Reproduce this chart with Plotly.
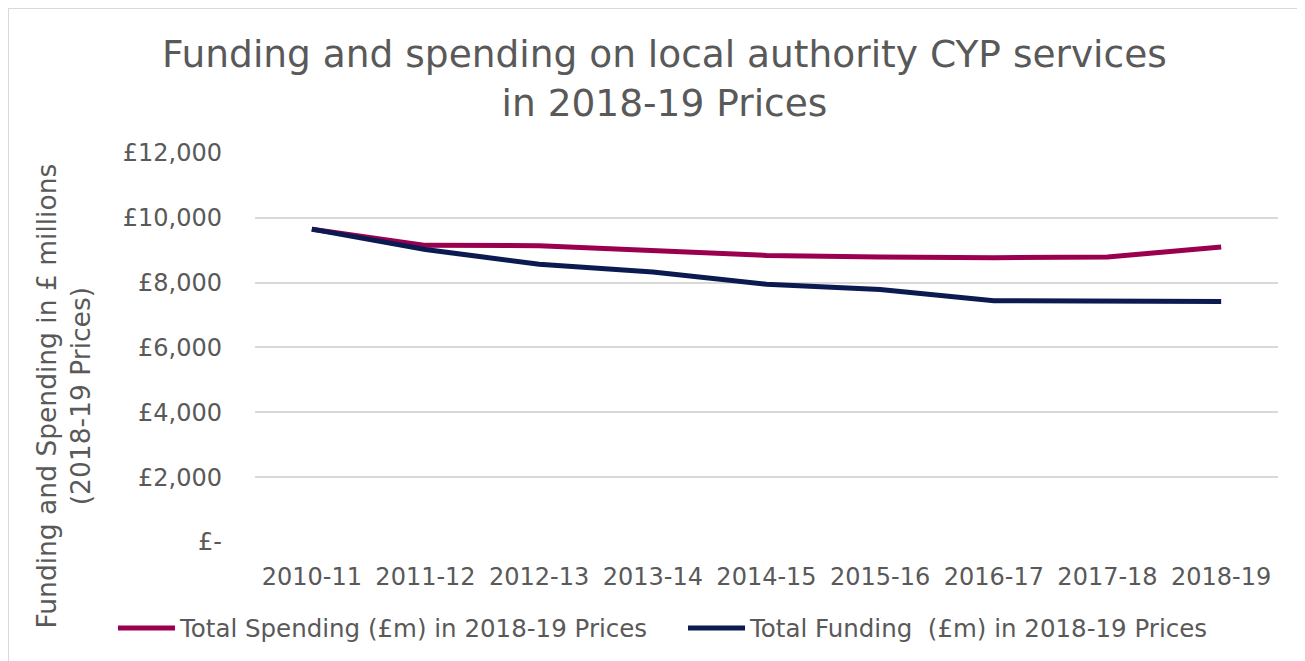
import plotly.graph_objects as go

# values (£m, 2018-19 prices)
years = ["2010-11", "2011-12", "2012-13", "2013-14", "2014-15",
         "2015-16", "2016-17", "2017-18", "2018-19"]
spending = [9650, 9150, 9140, 9000, 8840, 8790, 8770, 8790, 9100]
funding = [9650, 9020, 8570, 8330, 7950, 7790, 7440, 7420, 7420]

y_ticks = [0, 2000, 4000, 6000, 8000, 10000, 12000]
y_labels = ["£-", "£2,000", "£4,000", "£6,000", "£8,000", "£10,000", "£12,000"]

grey = "#595959"
font = "DejaVu Sans, Verdana, sans-serif"

# page has an 8px body margin, so figure coords = page coords - 8
left, right, top, bottom = 247, 1270, 144, 534
pw, ph = right - left, bottom - top

fig = go.Figure()
fig.add_trace(go.Scatter(x=years, y=spending, mode="lines",
                         name="Total Spending (£m) in 2018-19 Prices",
                         line=dict(color="#9b0050", width=5)))
fig.add_trace(go.Scatter(x=years, y=funding, mode="lines",
                         name="Total Funding  (£m) in 2018-19 Prices",
                         line=dict(color="#0b1a50", width=5)))

# outer chart border (only top and left visible in the reference)
bx = (0 - left) / pw
by = (bottom - 0) / ph
fig.add_shape(type="line", xref="paper", yref="paper",
              x0=bx, x1=1.1, y0=by, y1=by,
              line=dict(color="#d9d9d9", width=2))
fig.add_shape(type="line", xref="paper", yref="paper",
              x0=bx, x1=bx, y0=-0.4, y1=by,
              line=dict(color="#d9d9d9", width=2))

# y axis title as an annotation so it can sit lower, like the reference
fig.add_annotation(text="Funding and Spending in £ millions<br>(2018-19 Prices)",
                   xref="paper", yref="paper", textangle=-90,
                   x=(54.5 - left) / pw, y=(bottom - 388) / ph,
                   xanchor="center", yanchor="middle", showarrow=False,
                   font=dict(size=26.5, color=grey))

fig.update_layout(
    width=1305, height=661,
    margin=dict(l=left, r=1305 - right, t=top, b=661 - bottom, autoexpand=False),
    paper_bgcolor="white", plot_bgcolor="white",
    font=dict(family=font, color=grey),
    title=dict(text="Funding and spending on local authority CYP services<br>in 2018-19 Prices",
               x=0.503, xanchor="center", y=1 - 59 / 661, yanchor="middle",
               font=dict(size=37.5, color=grey)),
    showlegend=True,
    legend=dict(orientation="h", x=(105 - left) / pw, xanchor="left",
                y=-(620 - bottom) / ph, yanchor="middle",
                font=dict(size=24.5, color=grey), itemwidth=57, entrywidth=498,
                traceorder="normal"),
    xaxis=dict(type="category", range=[-0.5, 8.5], showgrid=False, zeroline=False,
               showline=False, automargin=False,
               tickfont=dict(size=24, color=grey), ticklabelstandoff=18),
    yaxis=dict(range=[0, 12030], tickvals=y_ticks, ticktext=y_labels, automargin=False,
               showgrid=True, gridcolor="#d9d9d9", gridwidth=2, zeroline=False,
               tickfont=dict(size=24, color=grey), ticklabelstandoff=32),
)

fig.write_html("out.html")
